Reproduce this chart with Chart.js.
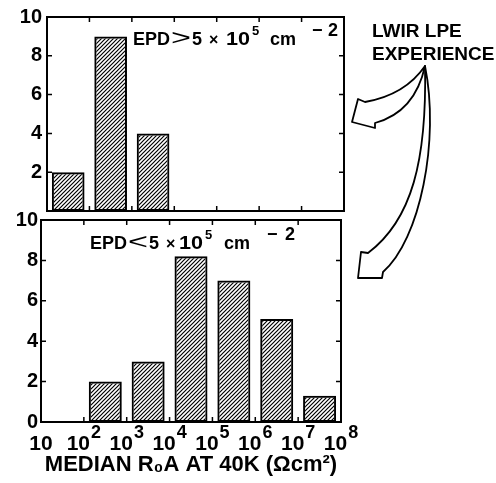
<!DOCTYPE html>
<html>
<head>
<meta charset="utf-8">
<title>Median R0A histograms</title>
<script src="https://cdn.jsdelivr.net/npm/chart.js@4.4.1/dist/chart.umd.min.js"></script>
<style>
  body { margin: 0; background: #fff; }
  #wrap { position: relative; width: 496px; height: 483px; overflow: hidden; }
  .panel { position: absolute; left: 0; width: 496px; }
  #topPanel { top: 0; height: 230px; }
  #bottomPanel { top: 204px; height: 279px; }
  #notes { position: absolute; left: 0; top: 0; pointer-events: none; }
</style>
</head>
<body>
<div id="wrap">
  <div class="panel" id="topPanel"><canvas id="chartHigh"></canvas></div>
  <div class="panel" id="bottomPanel"><canvas id="chartLow"></canvas></div>
  <svg id="notes" width="496" height="483" font-family="'Liberation Sans', Arial, sans-serif" font-weight="bold">
    <!-- panel captions -->
    <text y="45" font-size="18">
      <tspan x="133">EPD</tspan><tspan x="171" font-weight="normal" font-size="22" textLength="20" lengthAdjust="spacingAndGlyphs">&gt;</tspan><tspan x="192">5</tspan><tspan x="209" font-size="16">×</tspan><tspan x="226" textLength="24" lengthAdjust="spacingAndGlyphs">10</tspan><tspan x="252" y="35" font-size="13">5</tspan><tspan x="270" y="45">cm</tspan><tspan x="312" y="36">−</tspan><tspan x="328" y="36">2</tspan>
    </text>
    <text y="249" font-size="18">
      <tspan x="90">EPD</tspan><tspan x="128" font-weight="normal" font-size="22" textLength="20" lengthAdjust="spacingAndGlyphs">&lt;</tspan><tspan x="149">5</tspan><tspan x="166" font-size="16">×</tspan><tspan x="179" textLength="24" lengthAdjust="spacingAndGlyphs">10</tspan><tspan x="205" y="239" font-size="13">5</tspan><tspan x="224" y="249">cm</tspan><tspan x="267" y="240">−</tspan><tspan x="285" y="240">2</tspan>
    </text>
    <!-- callout -->
    <text x="372" y="37" font-size="19">LWIR LPE</text>
    <text x="372" y="60" font-size="19">EXPERIENCE</text>
    <g fill="#fff" stroke="#000" stroke-width="1.8" stroke-linejoin="round">
      <path d="M425 66 Q405 95 365 102 L358 99 L352 122 L375 128 L375 123 Q415 112 425 66 Z"/>
      <path d="M425 66 C427 160 412 220 368 253 L361 252 L358 278 L382 278 L383 272 C420 240 440 140 425 66 Z"/>
    </g>
  </svg>
</div>
<script>
// log10 of the resistance-area product; each bin spans one decade
const decades = [1, 2, 3, 4, 5, 6, 7, 8];

// EPD > 5e5 cm^-2
const highEpdBins = [1.5, 2.5, 3.5];
const highEpdCounts = [2, 9, 4];

// EPD < 5e5 cm^-2
const lowEpdBins = [2.5, 3.5, 4.5, 5.5, 6.5, 7.5];
const lowEpdCounts = [2, 3, 8.2, 7, 5.1, 1.3];

const highYTicks = [2, 4, 6, 8, 10];
const lowYTicks = [0, 2, 4, 6, 8, 10];

const FONT = "'Liberation Sans', Arial, sans-serif";
Chart.defaults.font.family = FONT;
Chart.defaults.color = '#000';

function hatch() {
  const c = document.createElement('canvas');
  c.width = c.height = 4;
  const g = c.getContext('2d');
  g.strokeStyle = '#000';
  g.lineWidth = 1.2;
  g.beginPath();
  g.moveTo(0, 4); g.lineTo(4, 0);
  g.moveTo(-1, 1); g.lineTo(1, -1);
  g.moveTo(3, 5); g.lineTo(5, 3);
  g.stroke();
  return g.createPattern(c, 'repeat');
}

// box round the plot area with short inward ticks
const frame = {
  id: 'frame',
  afterDatasetsDraw(chart) {
    const { ctx, chartArea: a, scales: { x, y } } = chart;
    ctx.save();
    ctx.strokeStyle = '#000';
    ctx.lineWidth = 2;
    ctx.strokeRect(a.left, a.top, a.right - a.left, a.bottom - a.top);
    ctx.lineWidth = 1.5;
    ctx.beginPath();
    decades.forEach(d => {
      const px = x.getPixelForValue(d);
      ctx.moveTo(px, a.bottom); ctx.lineTo(px, a.bottom - 5);
      ctx.moveTo(px, a.top); ctx.lineTo(px, a.top + 5);
    });
    y.ticks.forEach(t => {
      const py = y.getPixelForValue(t.value);
      ctx.moveTo(a.left, py); ctx.lineTo(a.left + 5, py);
      ctx.moveTo(a.right, py); ctx.lineTo(a.right - 5, py);
    });
    ctx.stroke();
    ctx.restore();
  }
};

// "10", "10^2" ... "10^8" under the decade boundaries
const decadeLabels = {
  id: 'decadeLabels',
  afterDraw(chart) {
    const { ctx, chartArea: a, scales: { x } } = chart;
    ctx.save();
    ctx.fillStyle = '#000';
    ctx.textBaseline = 'alphabetic';
    ctx.textAlign = 'left';
    decades.forEach(d => {
      const px = x.getPixelForValue(d);
      ctx.font = 'bold 21px ' + FONT;
      const wb = ctx.measureText('10').width;
      let we = 0;
      const exp = d > 1 ? String(d) : '';
      if (exp) {
        ctx.font = 'bold 18px ' + FONT;
        we = ctx.measureText(exp).width + 1;
      }
      const x0 = px - (wb + we) / 2;
      ctx.font = 'bold 21px ' + FONT;
      ctx.fillText('10', x0, a.bottom + 28);
      if (exp) {
        ctx.font = 'bold 18px ' + FONT;
        ctx.fillText(exp, x0 + wb + 1, a.bottom + 16);
      }
    });
    ctx.restore();
  }
};

function makeChart(id, bins, counts, yTicks, opts) {
  return new Chart(document.getElementById(id), {
    type: 'bar',
    data: {
      datasets: [{
        data: bins.map((b, i) => ({ x: b, y: counts[i] })),
        backgroundColor: hatch(),
        borderColor: '#000',
        borderWidth: 2,
        borderSkipped: false,
        categoryPercentage: 1,
        barPercentage: 0.77
      }]
    },
    options: {
      responsive: true,
      maintainAspectRatio: false,
      animation: false,
      layout: { padding: opts.padding },
      plugins: { legend: { display: false }, tooltip: { enabled: false } },
      scales: {
        x: {
          type: 'linear',
          min: 1,
          max: 8,
          offset: false,
          grid: { display: false, drawTicks: false },
          border: { display: false },
          ticks: { display: false, stepSize: 1 },
          title: opts.xTitle,
          afterFit: s => { s.height = opts.xHeight; }
        },
        y: {
          min: 0,
          max: 10,
          grid: { display: false, drawTicks: false },
          border: { display: false },
          afterBuildTicks: s => { s.ticks = yTicks.map(v => ({ value: v })); },
          ticks: {
            padding: opts.yPad,
            font: { size: 20, weight: 'bold' },
            color: '#000'
          },
          afterFit: s => { s.width = opts.yWidth; }
        }
      }
    },
    plugins: opts.plugins
  });
}

makeChart('chartHigh', highEpdBins, highEpdCounts, highYTicks, {
  padding: { top: 14, left: 0, right: 152, bottom: 0 },
  xHeight: 19,
  yWidth: 47,
  yPad: 5,
  xTitle: { display: false },
  plugins: [frame]
});

makeChart('chartLow', lowEpdBins, lowEpdCounts, lowYTicks, {
  padding: { top: 16, left: 0, right: 155, bottom: 0 },
  xHeight: 61,
  yWidth: 41,
  yPad: 3,
  xTitle: {
    display: true,
    text: 'MEDIAN R₀A AT 40K (Ωcm²)',
    font: { size: 22, weight: 'bold' },
    color: '#000',
    padding: { top: 0, bottom: 5 }
  },
  plugins: [frame, decadeLabels]
});
</script>
</body>
</html>
